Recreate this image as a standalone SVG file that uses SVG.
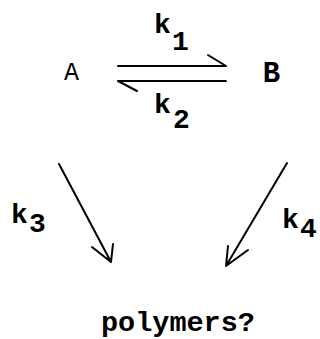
<svg xmlns="http://www.w3.org/2000/svg" width="320" height="339" viewBox="0 0 320 339">
<style>
.t{font-family:"Liberation Mono","Courier New",monospace;font-weight:bold;fill:#000}
.n{font-family:"Liberation Mono","Courier New",monospace;fill:#000}
.c{stroke:#000;stroke-width:2;fill:none;stroke-linecap:round;stroke-linejoin:round}
</style>
<rect width="320" height="339" fill="#fff"/>
<g id="A"><text class="n" x="71.5" y="80" font-size="25" text-anchor="middle">A</text></g>
<g id="B"><text class="t" x="271.5" y="82" font-size="29" text-anchor="middle">B</text></g>
<g id="polymers"><text class="t" x="101" y="331" font-size="28.5">polymers?</text></g>
<g id="connectors">
<path class="c" d="M118,66 H226 L208,55"/>
<path class="c" d="M226,81 H118 L137,91"/>
<path class="c" d="M59,164 L111,262 M92,247 L111,262 L113,244"/>
<path class="c" d="M287,163 L226,266 M228,246 L226,266 L248,250"/>
</g>
<g id="labels">
<text class="t" font-size="28" x="154" y="33">k</text><text class="t" font-size="28" x="172" y="50">1</text>
<text class="t" font-size="28" x="154" y="113">k</text><text class="t" font-size="28" x="173" y="128">2</text>
<text class="t" font-size="28" x="11" y="223">k</text><text class="t" font-size="28" x="29" y="232">3</text>
<text class="t" font-size="28" x="282" y="228">k</text><text class="t" font-size="28" x="300" y="237">4</text>
</g>
</svg>
